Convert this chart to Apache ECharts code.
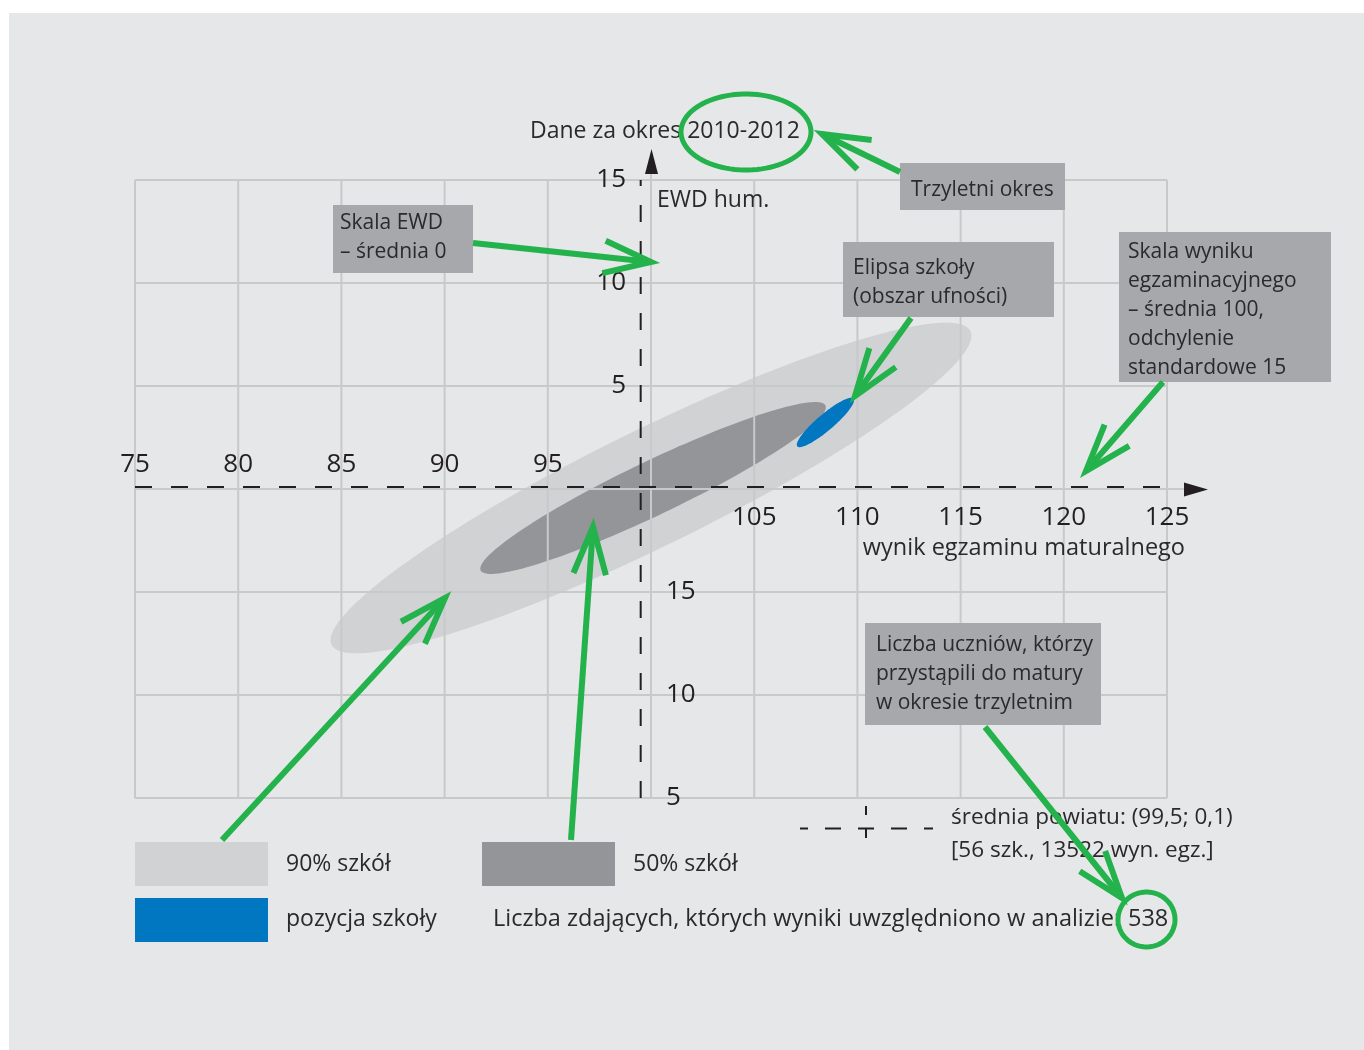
<!DOCTYPE html>
<html>
<head>
<meta charset="utf-8">
<title>EWD hum.</title>
<script src="https://cdn.jsdelivr.net/npm/echarts@6/dist/echarts.min.js"></script>
<style>
  html, body { margin: 0; padding: 0; background: #fff; }
  #chart { width: 1364px; height: 1050px; }
</style>
</head>
<body>
<div id="chart"></div>
<script>
// axis ranges
const xMin = 75, xMax = 125, xStep = 5;
const yMin = -15, yMax = 15, yStep = 5;
const xGridTicks = [75, 80, 85, 90, 95, 100, 105, 110, 115, 120, 125];
const yGridTicks = [-15, -10, -5, 0, 5, 10, 15];
const xLabelsAbove = [75, 80, 85, 90, 95];
const xLabelsBelow = [105, 110, 115, 120, 125];
const yLabelsUpper = [5, 10, 15];
const yTicksLower = [-5, -10, -15];
const yTextLower = ['15', '10', '5']; // printed like this in the original

// ellipses: [centre x, centre y, semi-major, semi-minor, angle in degrees]
const ellipse90 = [100.0, 0.05, 17.25, 2.83, 26.2];
const ellipse50 = [100.1, 0.05, 9.26, 1.31, 25.6];
const ellipseSchool = [108.45, 3.23, 1.79, 0.40, 40.4];

const countyMean = [99.5, 0.1];
const countySchools = 56;
const countyResults = 13522;
const studentsInAnalysis = 538;
const period = '2010-2012';

const FONT = '"Open Sans", "DejaVu Sans", sans-serif';
const TXT = '#2b2a2b';
const GREEN = '#24b24c';
const BOXFILL = '#a7a8ab';
const GRID = '#c8c9cb';
const LIGHT = '#d1d2d4';
const DARK = '#939598';
const BLUE = '#0077c0';

// plot area
const gLeft = 135, gTop = 180, gW = 1032, gH = 618;
const yAxisShift = -gW * (100 - xMin) / (xMax - xMin);
const xAxisShift = -gH * (yMax - 0) / (yMax - yMin);

const chart = echarts.init(document.getElementById('chart'));

function ellipseItem(fill) {
  return function (params, api) {
    const cx = api.value(0), cy = api.value(1);
    const a = api.value(2), b = api.value(3);
    const t = api.value(4) * Math.PI / 180;
    const pts = [];
    for (let i = 0; i < 144; i++) {
      const s = i / 144 * Math.PI * 2;
      const x = cx + a * Math.cos(t) * Math.cos(s) - b * Math.sin(t) * Math.sin(s);
      const y = cy + a * Math.sin(t) * Math.cos(s) + b * Math.cos(t) * Math.sin(s);
      pts.push(api.coord([x, y]));
    }
    return { type: 'polygon', shape: { points: pts }, style: { fill: fill } };
  };
}

// grid lines drawn as a series so they sit on top of the grey ellipses
function gridLine(vertical) {
  return function (params, api) {
    const v = vertical ? api.value(0) : api.value(1);
    const p1 = vertical ? api.coord([v, yMin]) : api.coord([xMin, v]);
    const p2 = vertical ? api.coord([v, yMax]) : api.coord([xMax, v]);
    return {
      type: 'line',
      shape: { x1: p1[0], y1: p1[1], x2: p2[0], y2: p2[1] },
      style: { stroke: GRID, lineWidth: 2 }
    };
  };
}

function txt(x, y, text, size, opts) {
  opts = opts || {};
  return {
    type: 'text', x: x, y: y, z: 100,
    style: {
      text: text,
      font: (size || 21) + 'px ' + FONT,
      fill: opts.fill || TXT,
      lineHeight: opts.lineHeight,
      align: opts.align || 'left', textAlign: opts.align || 'left',
      verticalAlign: opts.va || 'middle', textVerticalAlign: opts.va || 'middle'
    }
  };
}

function box(x, y, w, h, lines, tx, firstY) {
  return [
    { type: 'rect', z: 90, shape: { x: x, y: y, width: w, height: h }, style: { fill: BOXFILL } },
    txt(tx, firstY - 14.5, lines.join('\n'), 21, { lineHeight: 29, va: 'top' })
  ];
}

function arrow(x1, y1, x2, y2) {
  const ang = Math.atan2(y1 - y2, x1 - x2);
  const L = 50, h = 19 * Math.PI / 180;
  const p1 = [x2 + L * Math.cos(ang + h), y2 + L * Math.sin(ang + h)];
  const p2 = [x2 + L * Math.cos(ang - h), y2 + L * Math.sin(ang - h)];
  return [
    { type: 'line', z: 110, shape: { x1: x1, y1: y1, x2: x2, y2: y2 }, style: { stroke: GREEN, lineWidth: 6 } },
    { type: 'polyline', z: 110, shape: { points: [p1, [x2, y2], p2] }, style: { stroke: GREEN, lineWidth: 6, fill: null } }
  ];
}

function ring(cx, cy, rx, ry) {
  const pts = [];
  for (let i = 0; i < 90; i++) {
    const s = i / 90 * Math.PI * 2;
    pts.push([cx + rx * Math.cos(s), cy + ry * Math.sin(s)]);
  }
  return { type: 'polygon', z: 110, shape: { points: pts }, style: { fill: null, stroke: GREEN, lineWidth: 5 } };
}

const decNum = v => String(v).replace('.', ',');

const tickFont = { fontSize: 26, fontFamily: FONT, color: '#231f20' };

let graphics = [
  // grey panel
  { type: 'rect', z: -100, shape: { x: 9, y: 13, width: 1364 - 9, height: 1050 - 13 }, style: { fill: '#e6e7e8' } },
  // axis arrow heads
  { type: 'line', z: 50, shape: { x1: 651, y1: 172, x2: 651, y2: 180 }, style: { stroke: GRID, lineWidth: 2 } },
  { type: 'polygon', z: 50, shape: { points: [[651.5, 149], [645, 174], [658, 174]] }, style: { fill: '#231f20' } },
  { type: 'line', z: 50, shape: { x1: 1167, y1: 489, x2: 1186, y2: 489 }, style: { stroke: GRID, lineWidth: 2 } },
  { type: 'polygon', z: 50, shape: { points: [[1208, 489.5], [1184, 482.5], [1184, 496.5]] }, style: { fill: '#231f20' } },

  txt(530, 131, 'Dane za okres ' + period, 23),
  txt(657, 200, 'EWD hum.', 23),
  txt(1185, 548, 'wynik egzaminu maturalnego', 23.5, { align: 'right' }),

  // legend
  { type: 'rect', z: 90, shape: { x: 135, y: 842, width: 133, height: 44 }, style: { fill: LIGHT } },
  txt(286, 864, '90% szkół', 23),
  { type: 'rect', z: 90, shape: { x: 482, y: 842, width: 133, height: 44 }, style: { fill: DARK } },
  txt(633, 864, '50% szkół', 23),
  { type: 'rect', z: 90, shape: { x: 135, y: 898, width: 133, height: 44 }, style: { fill: BLUE } },
  txt(286, 919, 'pozycja szkoły', 23),
  txt(493, 919, 'Liczba zdających, których wyniki uwzględniono w analizie:', 23.5),
  txt(1128, 919, String(studentsInAnalysis), 23.5),

  // county mean symbol
  { type: 'line', z: 90, shape: { x1: 800, y1: 828.5, x2: 933, y2: 828.5 }, style: { stroke: '#231f20', lineWidth: 2, lineDash: [16, 17], lineDashOffset: 8 } },
  { type: 'line', z: 90, shape: { x1: 866, y1: 806, x2: 866, y2: 851 }, style: { stroke: '#231f20', lineWidth: 2, lineDash: [9, 14] } },
  txt(951, 818, 'średnia powiatu: (' + decNum(countyMean[0]) + '; ' + decNum(countyMean[1]) + ')', 22.5),
  txt(951, 851, '[' + countySchools + ' szk., ' + countyResults + ' wyn. egz.]', 22.5)
];

graphics = graphics.concat(
  box(900, 163, 165, 47, ['Trzyletni okres'], 911, 190),
  box(333, 205, 140, 68, ['Skala EWD', '– średnia 0'], 340, 223),
  box(843, 242, 211, 75, ['Elipsa szkoły', '(obszar ufności)'], 853, 268),
  box(1119, 232, 212, 150, ['Skala wyniku', 'egzaminacyjnego', '– średnia 100,', 'odchylenie', 'standardowe 15'], 1128, 252),
  box(865, 623, 236, 102, ['Liczba uczniów, którzy', 'przystąpili do matury', 'w okresie trzyletnim'], 876, 645),
  [ring(746, 132, 65, 38), ring(1146.5, 919.5, 28.5, 27.5)],
  arrow(900, 172, 822, 134),
  arrow(473, 243, 651, 262),
  arrow(911, 318, 855, 396),
  arrow(1163, 382, 1086, 471),
  arrow(222, 840, 445, 598),
  arrow(571, 840, 593, 527),
  arrow(985, 727, 1122, 898)
);

const option = {
  backgroundColor: '#ffffff',
  animation: false,
  grid: { left: gLeft, top: gTop, width: gW, height: gH, containLabel: false },
  xAxis: [
    {
      type: 'value', position: 'top', offset: xAxisShift, z: 10,
      min: xMin, max: xMax, interval: xStep,
      axisLine: { show: false, onZero: false }, axisTick: { show: false },
      splitLine: { show: false },
      axisLabel: Object.assign({ margin: 11, formatter: v => xLabelsAbove.indexOf(v) >= 0 ? String(v) : '' }, tickFont)
    },
    {
      type: 'value', position: 'bottom', offset: xAxisShift, z: 10,
      min: xMin, max: xMax, interval: xStep,
      axisLine: { show: false, onZero: false }, axisTick: { show: false },
      splitLine: { show: false },
      axisLabel: Object.assign({ margin: 16, formatter: v => xLabelsBelow.indexOf(v) >= 0 ? String(v) : '' }, tickFont)
    }
  ],
  yAxis: [
    {
      type: 'value', position: 'left', offset: yAxisShift, z: 10,
      min: yMin, max: yMax, interval: yStep,
      axisLine: { show: false, onZero: false }, axisTick: { show: false },
      splitLine: { show: false },
      axisLabel: Object.assign({ margin: 25, formatter: v => yLabelsUpper.indexOf(v) >= 0 ? String(v) : '' }, tickFont)
    },
    {
      type: 'value', position: 'right', offset: yAxisShift, z: 10,
      min: yMin, max: yMax, interval: yStep,
      axisLine: { show: false, onZero: false }, axisTick: { show: false },
      splitLine: { show: false },
      axisLabel: Object.assign({
        margin: 15,
        formatter: v => { const i = yTicksLower.indexOf(v); return i >= 0 ? yTextLower[i] : ''; }
      }, tickFont)
    }
  ],
  series: [
    {
      type: 'custom', name: '90% szkół', z: 1, silent: true,
      xAxisIndex: 0, yAxisIndex: 0, encode: { x: 0, y: 1 },
      renderItem: ellipseItem(LIGHT), data: [ellipse90]
    },
    {
      type: 'custom', name: '50% szkół', z: 1, silent: true,
      xAxisIndex: 0, yAxisIndex: 0, encode: { x: 0, y: 1 },
      renderItem: ellipseItem(DARK), data: [ellipse50]
    },
    {
      type: 'custom', name: 'siatka x', z: 2, silent: true,
      xAxisIndex: 0, yAxisIndex: 0, encode: { x: 0, y: 1 },
      renderItem: gridLine(true), data: xGridTicks.map(v => [v, 0])
    },
    {
      type: 'custom', name: 'siatka y', z: 2, silent: true,
      xAxisIndex: 0, yAxisIndex: 0, encode: { x: 0, y: 1 },
      renderItem: gridLine(false), data: yGridTicks.map(v => [100, v])
    },
    {
      type: 'custom', name: 'pozycja szkoły', z: 3, silent: true,
      xAxisIndex: 0, yAxisIndex: 0, encode: { x: 0, y: 1 },
      renderItem: ellipseItem(BLUE), data: [ellipseSchool]
    },
    {
      type: 'line', name: 'średnia x', z: 4, silent: true, symbol: 'none',
      xAxisIndex: 0, yAxisIndex: 0,
      lineStyle: { color: '#231f20', width: 2, type: [17, 19] },
      data: [[countyMean[0], yMin], [countyMean[0], yMax]]
    },
    {
      type: 'line', name: 'średnia y', z: 4, silent: true, symbol: 'none',
      xAxisIndex: 0, yAxisIndex: 0,
      lineStyle: { color: '#231f20', width: 2, type: [17, 19] },
      data: [[xMin, countyMean[1]], [xMax, countyMean[1]]]
    }
  ],
  graphic: { elements: graphics }
};

chart.setOption(option);
</script>
</body>
</html>
